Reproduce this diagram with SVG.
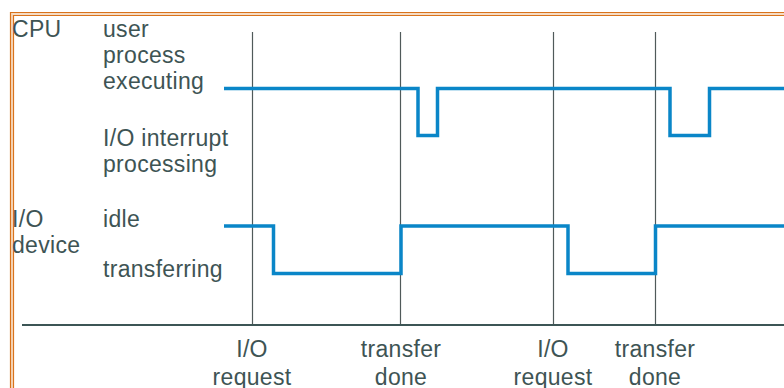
<svg xmlns="http://www.w3.org/2000/svg" width="784" height="388" viewBox="0 0 784 388">
  <style>
    .frame { fill: none; stroke: #d9731c; stroke-width: 1.2; }
    .band { fill: none; stroke: #f6dcc4; stroke-width: 2; }
    .tick { stroke: #505a5a; stroke-width: 1.2; fill: none; }
    .axis { stroke: #3c5555; stroke-width: 2; fill: none; }
    .signal { stroke: #0a86c8; stroke-width: 3.5; fill: none; stroke-linejoin: miter; }
    text { font-family: "Liberation Sans", Arial, sans-serif; font-size: 23px; fill: #3e5454; letter-spacing: 0.3px; }
    .mid { text-anchor: middle; }
  </style>
  <rect width="784" height="388" fill="#ffffff"/>

  <!-- double orange frame (top and left edges) -->
  <g id="frame">
    <path class="band" d="M12,400 V14 H800"/>
    <path class="frame" d="M10.5,400 V12.5 H800"/>
    <path class="frame" d="M13.5,400 V15.5 H800"/>
  </g>

  <g id="cpu-labels">
    <text x="12" y="37">CPU</text>
    <text x="103" y="37">user</text>
    <text x="103" y="63">process</text>
    <text x="103" y="89">executing</text>
    <text x="103" y="146">I/O interrupt</text>
    <text x="103" y="172">processing</text>
  </g>

  <g id="io-labels">
    <text x="12" y="227">I/O</text>
    <text x="12" y="253">device</text>
    <text x="103" y="227">idle</text>
    <text x="103" y="277">transferring</text>
  </g>

  <g id="connectors">
    <!-- event markers -->
    <line class="tick" x1="252.5" y1="32" x2="252.5" y2="325"/>
    <line class="tick" x1="400.5" y1="32" x2="400.5" y2="325"/>
    <line class="tick" x1="553.5" y1="32" x2="553.5" y2="325"/>
    <line class="tick" x1="655.5" y1="32" x2="655.5" y2="325"/>
    <!-- time axis -->
    <line class="axis" x1="22" y1="325" x2="784" y2="325"/>
    <!-- CPU activity -->
    <polyline id="cpu-signal" class="signal" points="224,88.5 418,88.5 418,135.5 437.5,135.5 437.5,88.5 670,88.5 670,135.5 709.5,135.5 709.5,88.5 784,88.5"/>
    <!-- I/O device activity -->
    <polyline id="io-signal" class="signal" points="224,226 273.5,226 273.5,273.5 401,273.5 401,226 568,226 568,273.5 655.5,273.5 655.5,226 784,226"/>
  </g>

  <g id="events">
    <g id="io-request-1">
      <text class="mid" x="252" y="357">I/O</text>
      <text class="mid" x="252" y="385">request</text>
    </g>
    <g id="transfer-done-1">
      <text class="mid" x="401" y="357">transfer</text>
      <text class="mid" x="401" y="385">done</text>
    </g>
    <g id="io-request-2">
      <text class="mid" x="553" y="357">I/O</text>
      <text class="mid" x="553" y="385">request</text>
    </g>
    <g id="transfer-done-2">
      <text class="mid" x="655" y="357">transfer</text>
      <text class="mid" x="655" y="385">done</text>
    </g>
  </g>
</svg>
